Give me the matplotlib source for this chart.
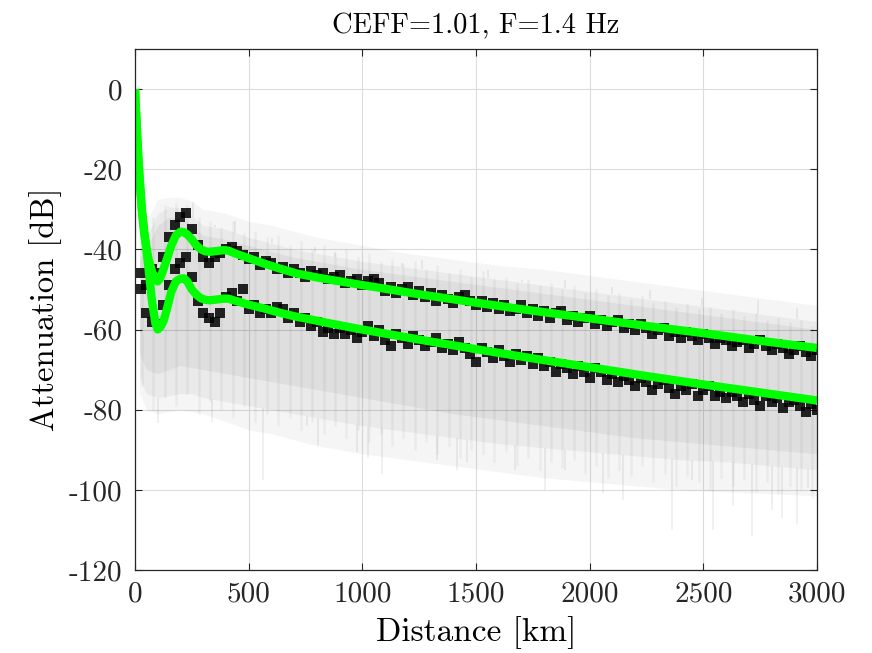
import numpy as np
import matplotlib
matplotlib.use("Agg")
import matplotlib.pyplot as plt

# smooth model curves (green)
green_x = [0, 5, 10, 15, 20, 30, 40, 50, 60, 75, 90, 100, 110, 125, 140, 160, 180, 200, 215,
           230, 250, 270, 290, 310, 330, 360, 390, 410, 440, 500, 565, 650, 710, 800, 860,
           1000, 1250, 1500, 1750, 2000, 2250, 2500, 2750, 3000]
green_upper = [0, -6, -12, -17.5, -22, -30, -35.5, -39.5, -42.5, -45.5, -47.5, -48, -47.3, -45,
               -42.5, -39, -36.5, -35.6, -35.7, -36.3, -37.5, -39, -40, -40.5, -40.6, -40.4,
               -40.2, -40.3, -41, -42.2, -43.5, -45, -46, -47, -47.6, -48.9, -51.2, -53.3,
               -55.3, -57.2, -59.1, -60.9, -62.8, -64.6]
green_lower = [0, -6, -12, -17.5, -22, -30, -35.5, -40, -45, -53, -58.5, -60, -59.5, -58,
               -55, -50.5, -48, -47.3, -47.2, -48, -50, -51.3, -52.2, -52.6, -52.7, -52.5,
               -52.3, -52.3, -52.8, -53.8, -54.7, -56, -56.8, -57.8, -58.5, -60, -62.5, -64.9,
               -67.2, -69.4, -71.6, -73.7, -75.7, -77.7]

# measured points (black squares), every 25 km from 25 to 3000 km
pts_x = list(range(25, 3001, 25))
pts_upper = [
    -46, -49, -45, -46, -42, -37, -34, -32, -31, -35,
    -39, -42, -43.5, -42, -41, -40, -39.5, -40.5, -41.5, -42.5,
    -42, -44, -43, -43.5, -45, -44.5, -46, -45, -46, -47,
    -45.5, -46.5, -46, -47.5, -47, -46.5, -48.5, -48, -47.5, -49,
    -48, -47.5, -48.5, -50.5, -49.5, -51, -50, -49.5, -51.5, -50.5,
    -52, -51, -53, -51.5, -52.5, -53.5, -52, -51.5, -53, -54,
    -53, -54.5, -53.5, -55, -54, -55.5, -55, -54, -56, -55,
    -56.5, -55.5, -57, -56, -55.5, -57.5, -56.5, -58, -57, -56.5,
    -58.5, -57.5, -59, -58, -57.5, -59.5, -58.5, -60, -58.5, -59.5,
    -61, -60, -59.5, -61.5, -60.5, -62, -60.5, -61.5, -62.5, -61,
    -62, -63.5, -62, -62.5, -64, -63, -62.5, -64.5, -63.5, -62.5,
    -64, -65, -63.5, -64.5, -66, -65, -64, -65.5, -66.5, -65]
pts_lower = [
    -50, -56, -58, -58.5, -54, -49, -45, -43.5, -42, -47,
    -53, -56, -57, -58, -56, -52, -51, -53, -50, -55,
    -54, -56, -55, -56, -54.5, -55, -57, -56, -58, -57,
    -59, -58, -60.5, -59.5, -61, -59.5, -61, -60, -62, -60.5,
    -59, -61.5, -60, -62.5, -64, -61, -62, -63.5, -61.5, -62.5,
    -64, -63, -62, -64.5, -63.5, -65, -63, -64.5, -66, -68,
    -64.5, -65.5, -67, -65, -66.5, -68, -66, -67.5, -66.5, -68.5,
    -67, -69, -68, -70.5, -68.5, -69.5, -71, -69, -70.5, -72,
    -69.5, -70.5, -72.5, -71, -73, -71.5, -72.5, -74, -72, -73,
    -75, -73.5, -72.5, -74.5, -76, -74, -75, -73.5, -76.5, -75,
    -74, -76.5, -75.5, -77, -75.5, -76.5, -78, -76, -77.5, -79,
    -76.5, -78, -77, -79.5, -78, -77.5, -79, -80.5, -78.5, -80]

# spread of the individual grey traces
env_x = [20, 50, 100, 150, 200, 250, 300, 400, 500, 600, 700, 800, 900, 1000, 1200, 1400,
         1600, 1800, 2000, 2200, 2400, 2600, 2800, 3000]
outer_top = [-36, -33, -27.5, -27, -27, -28, -30, -31, -33, -34, -35.5, -37, -38, -39, -41,
             -42.5, -44, -45, -46.5, -48, -49.5, -51, -52.5, -54]
outer_bot = [-76, -80, -81, -80.5, -80, -80.5, -81, -83, -85, -86, -87.5, -89, -90, -91,
             -92.5, -94, -95.5, -97, -98, -99, -100, -100.5, -101, -101.5]
mid_top = [-40, -37, -31, -29.5, -29.5, -31.5, -34, -35, -37, -38.5, -40, -41, -42, -43,
           -44.5, -46, -47.5, -49, -50.5, -52, -53.5, -55, -56.5, -58]
mid_bot = [-72, -76, -77, -76.5, -76, -76, -77, -78, -79, -80, -81, -82, -83, -84, -85.5,
           -87, -88.5, -89.5, -90.5, -91.5, -92.5, -93, -94, -95]
core_top = [-42, -40, -34, -32, -32, -34, -36.5, -37.5, -39, -40.5, -42, -43, -44, -45,
            -46.5, -48, -49.5, -51, -52.5, -54, -55.5, -57, -58.5, -60]
core_bot = [-66, -70, -71, -70, -69, -69.5, -70, -71, -72, -73, -74, -75, -76, -77, -79,
            -81, -82.5, -84, -85.5, -87, -88, -89, -90, -91]

# vertical streaks of the grey traces, every 50 km
streak_x = list(range(30, 3000, 50))
streak_top = [-38, -32, -29, -28.5, -29, -32, -33, -34.5, -33, -36,
              -35.5, -37, -36.5, -39, -38, -40, -39, -41, -40, -42,
              -41, -43, -42.5, -43.5, -43, -45, -44, -46, -45, -47,
              -45.5, -47.5, -47, -48.5, -47.5, -49, -48.5, -50, -49, -51,
              -50, -51.5, -51, -52.5, -51.5, -53.5, -53, -54.5, -53.5, -55,
              -54.5, -56, -55, -56.5, -56, -57.5, -57, -58, -57.5, -59]
streak_bot = [-74, -80, -77, -79, -76, -81, -78, -80, -82, -79,
              -83, -81, -84, -82, -85, -83, -86, -84, -87, -85,
              -88, -86, -89, -87, -90, -88, -91, -89, -92, -90,
              -91, -93, -90.5, -94, -92, -95, -93, -94.5, -92.5, -96,
              -94, -97, -95, -96.5, -94, -98, -96, -99, -96.5, -98,
              -100, -97, -99, -97.5, -100.5, -98, -101, -99, -100, -102]

# isolated deep / high excursions of single traces
spike_dn_x = [103, 337, 565, 755, 807, 975, 1027, 1085, 1327, 1415, 1459, 1672, 1804, 1892,
              2060, 2148, 2361, 2449, 2543, 2632, 2713, 2801, 2845, 2911, 2962]
spike_dn_y = [-83.4, -83, -97.5, -84, -88.8, -90.5, -92, -96, -92.6, -95, -93, -95, -100,
              -95, -100.8, -102.5, -110, -97.5, -110, -104, -111.5, -105, -107, -108.5, -99.5]
spike_up_x = [147, 257, 352, 440, 601, 792, 880, 1173, 1261, 1554, 1701, 1892, 2097, 2265,
              2493, 2742, 2911]
spike_up_y = [-29.4, -28.1, -33.9, -33, -37.2, -39.3, -40.6, -43.5, -42.7, -45.2, -47.6,
              -47.6, -49.3, -50.1, -52.2, -52.6, -54.7]

plt.rcParams['font.family'] = ['cmr10', 'DejaVu Serif']
plt.rcParams['axes.formatter.use_mathtext'] = True

fig = plt.figure(figsize=(8.72, 6.53), dpi=100)
ax = fig.add_axes([0.1548, 0.1271, 0.7821, 0.7979])

ax.grid(True, color='#dcdcdc', linewidth=0.8)
ax.set_axisbelow(True)

ax.fill_between(env_x, outer_bot, outer_top, color='k', alpha=0.04, linewidth=0)
ax.fill_between(env_x, mid_bot, mid_top, color='k', alpha=0.045, linewidth=0)
ax.fill_between(env_x, core_bot, core_top, color='k', alpha=0.05, linewidth=0)
ax.vlines(streak_x, streak_bot, streak_top, color='k', alpha=0.045, linewidth=1.8)
ax.vlines(spike_dn_x, spike_dn_y, np.interp(spike_dn_x, env_x, mid_bot),
          color='k', alpha=0.07, linewidth=1.2)
ax.vlines(spike_up_x, np.interp(spike_up_x, env_x, mid_top), spike_up_y,
          color='k', alpha=0.07, linewidth=1.2)

ax.plot(pts_x, pts_upper, 's', color='k', alpha=0.85, markersize=7.8, markeredgewidth=0)
ax.plot(pts_x, pts_lower, 's', color='k', alpha=0.85, markersize=7.8, markeredgewidth=0)

ax.plot(green_x, green_upper, color='#00ff00', linewidth=6, solid_joinstyle='round',
        solid_capstyle='butt')
ax.plot(green_x, green_lower, color='#00ff00', linewidth=6, solid_joinstyle='round',
        solid_capstyle='butt')

ax.set_xlim(0, 3000)
ax.set_ylim(-120, 10)
xt = [0, 500, 1000, 1500, 2000, 2500, 3000]
yt = [-120, -100, -80, -60, -40, -20, 0]
ax.set_xticks(xt)
ax.set_xticklabels([str(v) for v in xt])
ax.set_yticks(yt)
ax.set_yticklabels([str(v) for v in yt])
ax.tick_params(direction='in', length=5, width=0.8, colors='#262626', labelsize=21,
               top=True, right=True)
ax.tick_params(axis='x', pad=8)
ax.tick_params(axis='y', pad=9)
for s in ax.spines.values():
    s.set_color('#262626')
    s.set_linewidth(0.9)

ax.set_xlabel('Distance [km]', fontsize=24, labelpad=6)
ax.set_ylabel('Attenuation [dB]', fontsize=23.5, labelpad=5)
ax.set_title('CEFF=1.01, F=1.4 Hz', fontsize=20.5, pad=11)

fig.savefig('out.png', dpi=100)
